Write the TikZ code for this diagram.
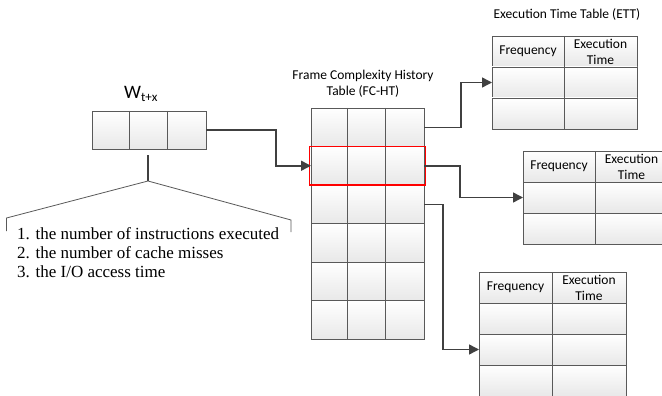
\documentclass[tikz,border=0pt]{standalone}
\usepackage{fontspec}
\setmainfont{Liberation Serif}
\newfontfamily\calib{Carlito}
\usetikzlibrary{arrows.meta,calc}
\begin{document}
\begin{tikzpicture}[x=1pt,y=-1pt,
  cellrow/.style={draw=black!65, line width=0.8pt, top color=white, bottom color=black!9,
    inner sep=0pt, outer sep=0pt, anchor=north west},
  gridline/.style={draw=black!65, line width=0.8pt},
  conn/.style={draw=black!75, line width=1.5pt, -{Triangle[length=10pt,width=10pt]}},
  lbl/.style={font=\calib\fontsize{13.5}{16}\selectfont, inner sep=0pt, align=center},
  listtxt/.style={inner sep=0pt, anchor=base west},
  bracel/.style={draw=black!65, line width=0.8pt},
]
\useasboundingbox (0,0) rectangle (662,396);
\clip (0,0) rectangle (662,396);

% W box
\node[cellrow, minimum width=114pt, minimum height=38pt] (w) at (92,111) {};
\draw[gridline] (129,111) -- (129,149) (167,111) -- (167,149);
\node[inner sep=0pt, anchor=base west] (wlbl) at (124,99) {\calib\fontsize{19}{21}\selectfont W\raisebox{-3pt}{\fontsize{13}{14}\selectfont t+x}};

% brace
\coordinate (stemtop) at (148,155);
\coordinate (peak) at (148,181);
\coordinate (bl1) at (6.5,218);
\coordinate (bl2) at (6.5,231);
\coordinate (br1) at (291,220);
\coordinate (br2) at (291,232);
\draw[draw=black!75, line width=1.3pt] (stemtop) -- (peak);
\draw[bracel] (bl2) -- (bl1) -- (peak) -- (br1) -- (br2);

\node[listtxt] (l1) at (17,239) {\fontsize{17}{19}\selectfont 1. the number of instructions executed};
\node[listtxt] (l2) at (17,258) {\fontsize{17}{19}\selectfont 2. the number of cache misses};
\node[listtxt] (l3) at (17,277) {\fontsize{17}{19}\selectfont 3. the I/O access time};

% FC-HT
\node[lbl] (fctitle) at (363,83.5) {Frame Complexity History\\Table (FC-HT)};
\foreach \i in {1,...,6}
  \node[cellrow, minimum width=113pt, minimum height=38.5pt] (fc\i) at (311,{108+(\i-1)*38.5}) {};
\draw[gridline] (347,108) -- (347,339) (385,108) -- (385,339);
\draw[red, line width=1.5pt] ($(fc2.north west)+(-1.5,0)$) rectangle ($(fc2.south east)+(1.5,0)$);

% ETT 1
\node[lbl] (etttitle) at (567,15) {Execution Time Table (ETT)};
\node[cellrow, minimum width=145pt, minimum height=31pt] (e1h) at (492,36) {};
\node[cellrow, minimum width=145pt, minimum height=31pt] (e1r1) at (492,67) {};
\node[cellrow, minimum width=145pt, minimum height=31pt] (e1r2) at (492,98) {};
\draw[gridline] (564,36) -- (564,129);
\node[lbl] (e1f) at (528,51.5) {Frequency};
\node[lbl] (e1t) at (600.5,51.5) {Execution\\Time};

% ETT 2
\node[cellrow, minimum width=145pt, minimum height=31pt] (e2h) at (523,151) {};
\node[cellrow, minimum width=145pt, minimum height=31pt] (e2r1) at (523,182) {};
\node[cellrow, minimum width=145pt, minimum height=31pt] (e2r2) at (523,213) {};
\draw[gridline] (595,151) -- (595,244);
\node[lbl] (e2f) at (559,166.5) {Frequency};
\node[lbl] (e2t) at (631.5,166.5) {Execution\\Time};

% ETT 3
\node[cellrow, minimum width=147pt, minimum height=31pt] (e3h) at (479,272) {};
\node[cellrow, minimum width=147pt, minimum height=31pt] (e3r1) at (479,303) {};
\node[cellrow, minimum width=147pt, minimum height=31pt] (e3r2) at (479,334) {};
\node[cellrow, minimum width=147pt, minimum height=31pt] (e3r3) at (479,365) {};
\draw[gridline] (552,272) -- (552,396);
\node[lbl] (e3f) at (515.5,287.5) {Frequency};
\node[lbl] (e3t) at (589,287.5) {Execution\\Time};

% connectors
\draw[conn] (w.east) -- ++(70,0) |- (fc2.west);
\draw[conn] (fc1.east) -- ++(37,0) |- (e1r1.west);
\draw[conn] (fc2.east) -- ++(36,0) |- (e2r1.west);
\draw[conn] (fc3.east) -- ++(19,0) |- (e3r2.west);
\end{tikzpicture}
\end{document}
